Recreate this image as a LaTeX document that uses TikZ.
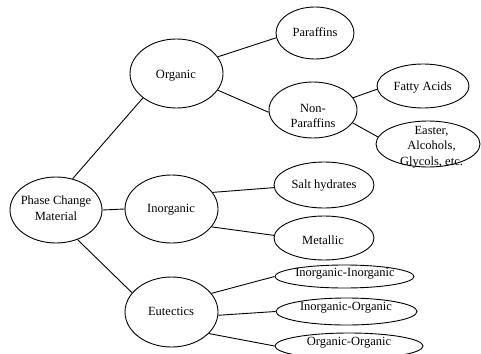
\documentclass[tikz,border=0pt]{standalone}
\usepackage{fontspec}
\setmainfont{Liberation Serif}
\usetikzlibrary{shapes.geometric}
\tikzset{
  ell/.style={draw, ellipse, line width=0.9pt, inner sep=0pt},
  txt/.style={inner sep=0pt, align=center, font=\fontsize{12.5}{15.7}\selectfont},
  conn/.style={line width=0.9pt}
}
\begin{document}
\begin{tikzpicture}[x=1pt,y=-1pt]
\useasboundingbox (0,0) rectangle (481,353);
\clip (0,0) rectangle (481,353);
% ellipses
\node[ell, minimum width=92, minimum height=66] (pcm) at (56,210) {};
\node[ell, minimum width=93, minimum height=69] (org) at (176.5,73.5) {};
\node[ell, minimum width=93, minimum height=68] (inorg) at (171.5,209) {};
\node[ell, minimum width=93, minimum height=70] (eut) at (171.5,312) {};
\node[ell, minimum width=78, minimum height=52] (par) at (315,33) {};
\node[ell, minimum width=88, minimum height=56] (nonp) at (313,110) {};
\node[ell, minimum width=92, minimum height=44] (fatty) at (423,86) {};
\node[ell, minimum width=104, minimum height=46] (easter) at (428,144) {};
\node[ell, minimum width=100, minimum height=46] (salt) at (324,185) {};
\node[ell, minimum width=100, minimum height=44] (metal) at (324,238) {};
\node[ell, minimum width=139, minimum height=23] (ii) at (344.5,276.5) {};
\node[ell, minimum width=141, minimum height=27] (io) at (346.5,311.5) {};
\node[ell, minimum width=148, minimum height=26] (oo) at (349,346) {};
% texts
\node[txt] (pcmt) at (56,208) {Phase Change\\Material};
\node[txt] (orgt) at (176,75.5) {Organic};
\node[txt] (inorgt) at (171,210) {Inorganic};
\node[txt] (eutt) at (171,311.5) {Eutectics};
\node[txt] (part) at (315,32.5) {Paraffins};
\node[txt] (nonpt) at (313,116) {Non-\\Paraffins};
\node[txt] (fattyt) at (422.7,87.5) {Fatty Acids};
\node[txt] (eastert) at (431.5,147) {Easter,\\Alcohols,\\Glycols, etc.};
\node[txt] (saltt) at (324,186) {Salt hydrates};
\node[txt] (metalt) at (323,240) {Metallic};
\node[txt] (iit) at (345,274) {Inorganic-Inorganic};
\node[txt] (iot) at (346,307.5) {Inorganic-Organic};
\node[txt] (oot) at (349,343) {Organic-Organic};
% connectors
\draw[conn] (pcm.62) -- (org.216);
\draw[conn] (pcm.east) -- (inorg.west);
\draw[conn] (pcm.-54) -- (eut.154);
\draw[conn] (org.22) -- (par.187);
\draw[conn] (org.-22) -- (nonp.183);
\draw[conn] (nonp.17) -- (fatty.184);
\draw[conn] (nonp.-18) -- (easter.172);
\draw[conn] (inorg.22) -- (salt.183);
\draw[conn] (inorg.-24) -- (metal.177);
\draw[conn] (eut.25) -- (ii.west);
\draw[conn] (eut.-4) -- (io.west);
\draw[conn] (eut.-30) -- (oo.west);
\end{tikzpicture}
\end{document}
